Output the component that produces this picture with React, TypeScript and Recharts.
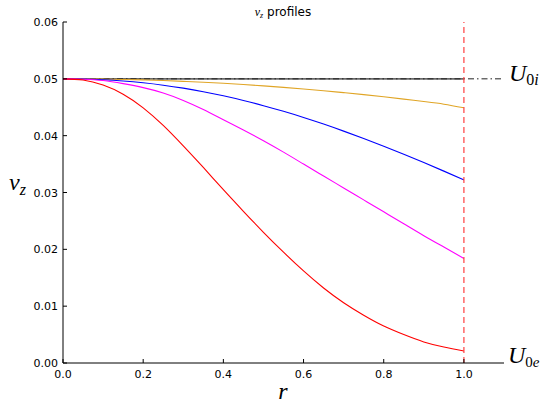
import React from 'react';
import { LineChart, Line, XAxis, YAxis, ReferenceLine } from 'recharts';

const rValues = [0, 0.05, 0.1, 0.15, 0.2, 0.25, 0.3, 0.35, 0.4, 0.45, 0.5, 0.55, 0.6, 0.65, 0.7, 0.75, 0.8, 0.85, 0.9, 0.95, 1.0];
const orangeSeries = [0.05, 0.04999, 0.04995, 0.04989, 0.04981, 0.0497, 0.04956, 0.0494, 0.04921, 0.049, 0.04876, 0.0485, 0.04822, 0.04791, 0.04757, 0.04722, 0.04684, 0.04643, 0.046, 0.04554, 0.0449];
const blueSeries = [0.05, 0.04996, 0.04984, 0.04962, 0.0493, 0.04888, 0.04836, 0.04774, 0.04702, 0.0462, 0.04528, 0.04428, 0.0432, 0.04204, 0.0408, 0.0395, 0.03814, 0.03672, 0.03526, 0.03376, 0.03222];
const magentaSeries = [0.05, 0.04993, 0.0497, 0.04915, 0.04845, 0.0475, 0.0462, 0.0446, 0.0428, 0.041, 0.0391, 0.0371, 0.035, 0.0329, 0.0308, 0.0287, 0.0266, 0.0245, 0.0224, 0.0204, 0.0184];
const redSeries = [0.05, 0.0498, 0.0489, 0.0473, 0.0449, 0.0418, 0.0382, 0.0344, 0.0305, 0.0267, 0.023, 0.0195, 0.0162, 0.0132, 0.0106, 0.0084, 0.0065, 0.005, 0.0037, 0.0028, 0.0021];
const baseSeries = [0.05, 0.05, 0.05, 0.05, 0.05, 0.05, 0.05, 0.05, 0.05, 0.05, 0.05, 0.05, 0.05, 0.05, 0.05, 0.05, 0.05, 0.05, 0.05, 0.05, 0.05];
const xTicks = [0, 0.2, 0.4, 0.6, 0.8, 1.0];
const yTicks = [0, 0.01, 0.02, 0.03, 0.04, 0.05, 0.06];
const u0iLevel = 0.05;
const wallR = 1.0;

const data = rValues.map((r, i) => ({
  r,
  base: baseSeries[i],
  orange: orangeSeries[i],
  blue: blueSeries[i],
  magenta: magentaSeries[i],
  red: redSeries[i],
}));

const tickFont = "'DejaVu Sans', sans-serif";
const mathFont = "'Liberation Serif', 'DejaVu Serif', serif";

const BottomTick = (props: any) => {
  const { x, y, payload } = props;
  return (
    <g>
      <line x1={x} y1={y} x2={x} y2={y - 4} stroke="#000" strokeWidth={1} />
      <text x={x} y={y + 15} textAnchor="middle" fontSize={11} fontFamily={tickFont} fill="#000">
        {Number(payload.value).toFixed(1)}
      </text>
    </g>
  );
};

const TopTick = (props: any) => {
  const { x, y } = props;
  return <line x1={x} y1={y} x2={x} y2={y + 4} stroke="#000" strokeWidth={1} />;
};

const LeftTick = (props: any) => {
  const { x, y, payload } = props;
  return (
    <g>
      <line x1={x} y1={y} x2={x + 4} y2={y} stroke="#000" strokeWidth={1} />
      <text x={x - 5} y={y + 4} textAnchor="end" fontSize={11} fontFamily={tickFont} fill="#000">
        {Number(payload.value).toFixed(2)}
      </text>
    </g>
  );
};

const RightTick = (props: any) => {
  const { x, y } = props;
  return <line x1={x} y1={y} x2={x - 4} y2={y} stroke="#000" strokeWidth={1} />;
};

export default function App() {
  return (
    <div style={{ position: 'absolute', left: 0, top: 0, width: 541, height: 406, background: '#fff' }}>
      <LineChart
        width={541}
        height={406}
        data={data}
        margin={{ top: 22, right: 37, bottom: 0, left: 0 }}
      >
        <XAxis
          dataKey="r"
          type="number"
          domain={[0, 1.1]}
          ticks={xTicks}
          allowDataOverflow
          height={43}
          tickSize={0}
          tickMargin={0}
          tickLine={false}
          axisLine={{ stroke: '#000', strokeWidth: 1 }}
          tick={<BottomTick />}
          interval={0}
        />
        <XAxis
          xAxisId="top"
          orientation="top"
          dataKey="r"
          type="number"
          domain={[0, 1.1]}
          ticks={xTicks}
          allowDataOverflow
          height={0}
          tickSize={0}
          tickMargin={0}
          tickLine={false}
          axisLine={{ stroke: '#000', strokeWidth: 1 }}
          tick={<TopTick />}
          interval={0}
        />
        <YAxis
          type="number"
          domain={[0, 0.06]}
          ticks={yTicks}
          allowDataOverflow
          width={63}
          tickSize={0}
          tickMargin={0}
          tickLine={false}
          axisLine={{ stroke: '#000', strokeWidth: 1 }}
          tick={<LeftTick />}
          interval={0}
        />
        <YAxis
          yAxisId="right"
          orientation="right"
          type="number"
          domain={[0, 0.06]}
          ticks={yTicks}
          allowDataOverflow
          width={0}
          tickSize={0}
          tickMargin={0}
          tickLine={false}
          axisLine={{ stroke: '#000', strokeWidth: 1 }}
          tick={<RightTick />}
          interval={0}
        />
        <Line dataKey="base" stroke="#6a6a6a" strokeWidth={1.6} dot={false} isAnimationActive={false} type="linear" />
        <ReferenceLine y={u0iLevel} stroke="#222" strokeWidth={1} strokeDasharray="6 3 1.5 3" ifOverflow="visible" />
        <Line dataKey="orange" stroke="#e0a526" strokeWidth={1.1} dot={false} isAnimationActive={false} type="natural" />
        <Line dataKey="blue" stroke="#0000ff" strokeWidth={1.1} dot={false} isAnimationActive={false} type="natural" />
        <Line dataKey="magenta" stroke="#ff00ff" strokeWidth={1.1} dot={false} isAnimationActive={false} type="natural" />
        <Line dataKey="red" stroke="#ff0000" strokeWidth={1.1} dot={false} isAnimationActive={false} type="natural" />
        <ReferenceLine x={wallR} stroke="#ff4040" strokeWidth={1.2} strokeDasharray="6 4" ifOverflow="visible" />
      </LineChart>
      <svg
        width={541}
        height={406}
        style={{ position: 'absolute', left: 0, top: 0, pointerEvents: 'none' }}
      >
        <text x={283} y={16} textAnchor="middle" fontSize={12} fill="#000">
          <tspan fontFamily={mathFont} fontStyle="italic" fontSize={12}>v</tspan>
          <tspan fontFamily={mathFont} fontStyle="italic" fontSize={8} dy={2}>z</tspan>
          <tspan fontFamily={tickFont} fontSize={12} dy={-2}> profiles</tspan>
        </text>
        <text x={9} y={190} fontSize={24} fill="#000" fontFamily={mathFont}>
          <tspan fontStyle="italic">v</tspan>
          <tspan fontStyle="italic" fontSize={16} dy={5}>z</tspan>
        </text>
        <text x={283} y={399} textAnchor="middle" fontSize={24} fontStyle="italic" fontFamily={mathFont} fill="#000">r</text>
        <text x={509} y={81} fontSize={24} fill="#000" fontFamily={mathFont}>
          <tspan fontStyle="italic">U</tspan>
          <tspan fontSize={16} dy={4}>0</tspan>
          <tspan fontSize={16} fontStyle="italic">i</tspan>
        </text>
        <text x={508} y={363} fontSize={24} fill="#000" fontFamily={mathFont}>
          <tspan fontStyle="italic">U</tspan>
          <tspan fontSize={15} dy={4}>0</tspan>
          <tspan fontSize={15} fontStyle="italic">e</tspan>
        </text>
      </svg>
    </div>
  );
}
